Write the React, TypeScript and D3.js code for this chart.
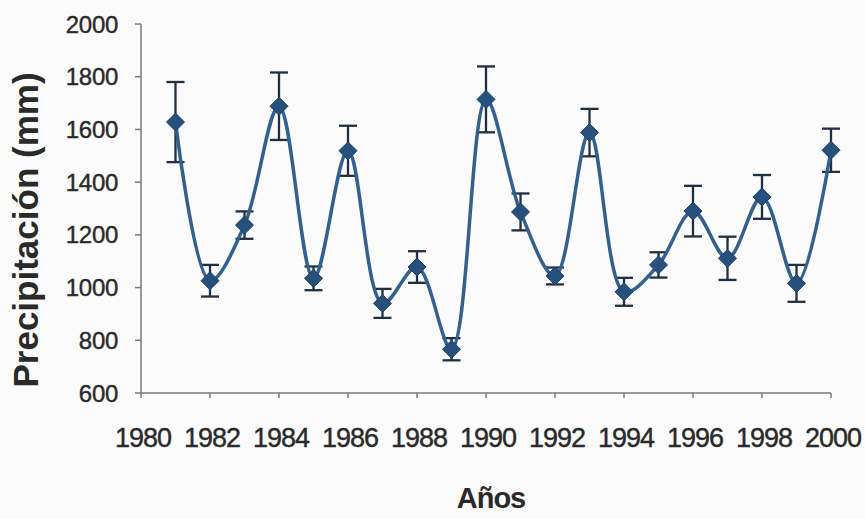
import React from "react";
import * as d3 from "d3";

// Annual precipitation (mm) with error margins
const years = [1981, 1982, 1983, 1984, 1985, 1986, 1987, 1988, 1989, 1990,
  1991, 1992, 1993, 1994, 1995, 1996, 1997, 1998, 1999, 2000];
const precipitation = [1628, 1026, 1237, 1688, 1035, 1519, 940, 1078, 766, 1714,
  1287, 1044, 1588, 984, 1086, 1290, 1111, 1344, 1016, 1521];
const errors = [152, 60, 52, 128, 45, 95, 55, 60, 42, 125,
  70, 32, 90, 53, 48, 96, 82, 83, 70, 82];
const yTicks = [600, 800, 1000, 1200, 1400, 1600, 1800, 2000];
const xTicks = [1980, 1982, 1984, 1986, 1988, 1990, 1992, 1994, 1996, 1998, 2000];

const W = 865;
const H = 519;
const left = 141;
const right = 831;
const top = 24;
const bottom = 393;

export default function App() {
  const x = d3.scaleLinear().domain([1980, 2000]).range([left, right]);
  const y = d3.scaleLinear().domain([600, 2000]).range([bottom, top]);
  const pts = years.map((yr, i) => ({ yr, v: precipitation[i], e: errors[i] }));
  const line = d3
    .line<{ yr: number; v: number }>()
    .x((d) => x(d.yr))
    .y((d) => y(d.v))
    .curve(d3.curveCatmullRom.alpha(0.5));

  const textColor = "#2a2a2a";
  const axisColor = "#7a7a7a";
  const lineColor = "#33608d";
  const markerColor = "#27507c";
  const barColor = "#1f2e42";
  const cap = 9;
  const m = 9;

  return (
    <svg
      width={W}
      height={H}
      style={{ position: "absolute", left: 0, top: 0, background: "#fcfbfc" }}
      fontFamily="'Liberation Sans', Arial, sans-serif"
    >
      <rect x={0} y={0} width={W} height={H} fill="#fcfbfc" />
      {/* y axis */}
      <line x1={left} x2={left} y1={top} y2={bottom} stroke={axisColor} strokeWidth={1.5} />
      {yTicks.map((t) => (
        <g key={t}>
          <line x1={left - 6} x2={left} y1={y(t)} y2={y(t)} stroke={axisColor} strokeWidth={1.5} />
          <text
            x={118}
            y={y(t)}
            dy="0.36em"
            textAnchor="end"
            fontSize={24}
            fill={textColor}
            stroke={textColor}
            strokeWidth={0.4}
            letterSpacing={-0.3}
          >
            {t}
          </text>
        </g>
      ))}
      {/* x axis */}
      <line x1={left} x2={right} y1={bottom} y2={bottom} stroke={axisColor} strokeWidth={1.5} />
      {xTicks.map((t) => (
        <g key={t}>
          <line x1={x(t)} x2={x(t)} y1={bottom} y2={bottom + 5} stroke={axisColor} strokeWidth={1.5} />
          <text
            x={x(t) + 2}
            y={447}
            textAnchor="middle"
            fontSize={27}
            fill={textColor}
            stroke={textColor}
            strokeWidth={0.4}
            letterSpacing={-1}
          >
            {t}
          </text>
        </g>
      ))}
      {/* axis titles */}
      <text
        transform="translate(38,230) rotate(-90)"
        textAnchor="middle"
        fontSize={35}
        fontWeight="bold"
        fill={textColor}
      >
        Precipitación (mm)
      </text>
      <text x={491} y={508} textAnchor="middle" fontSize={29} fontWeight="bold" fill={textColor} letterSpacing={-1}>
        Años
      </text>
      {/* error bars */}
      {pts.map((d) => (
        <g key={"e" + d.yr} stroke={barColor} strokeWidth={2.3}>
          <line x1={x(d.yr)} x2={x(d.yr)} y1={y(d.v + d.e)} y2={y(d.v - d.e)} />
          <line x1={x(d.yr) - cap} x2={x(d.yr) + cap} y1={y(d.v + d.e)} y2={y(d.v + d.e)} />
          <line x1={x(d.yr) - cap} x2={x(d.yr) + cap} y1={y(d.v - d.e)} y2={y(d.v - d.e)} />
        </g>
      ))}
      {/* smoothed series */}
      <path d={line(pts) ?? ""} fill="none" stroke={lineColor} strokeWidth={3.5} />
      {/* diamond markers */}
      {pts.map((d) => (
        <path
          key={"m" + d.yr}
          d={`M${x(d.yr)},${y(d.v) - m}L${x(d.yr) + m},${y(d.v)}L${x(d.yr)},${y(d.v) + m}L${x(d.yr) - m},${y(d.v)}Z`}
          fill={markerColor}
          stroke="#1d3f66"
          strokeWidth={1}
        />
      ))}
    </svg>
  );
}
